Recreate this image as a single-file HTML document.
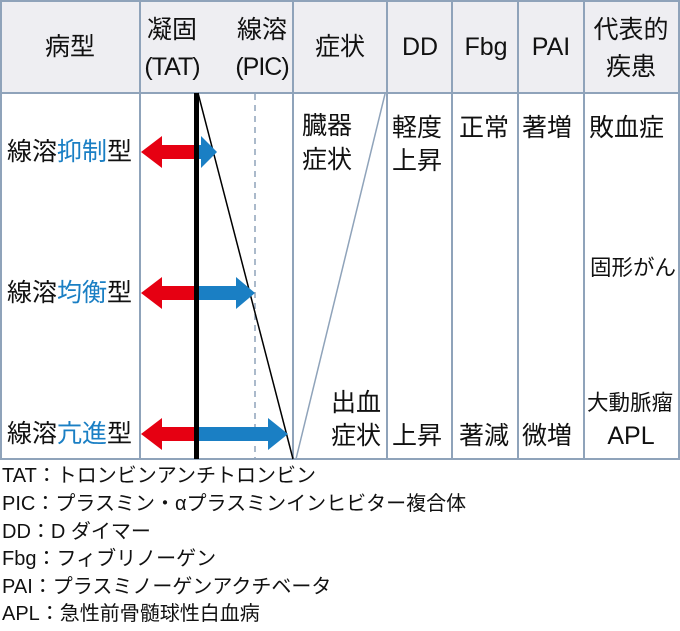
<!DOCTYPE html>
<html><head><meta charset="utf-8"><style>
html,body{margin:0;padding:0;background:#fff;}
svg{display:block;}
text{font-family:"Liberation Sans","Noto Sans CJK JP",sans-serif;fill:#111;dominant-baseline:central;}
</style></head><body>
<svg width="680" height="631" viewBox="0 0 680 631" xmlns="http://www.w3.org/2000/svg">
<rect x="1" y="1" width="678" height="92" fill="#eeeef2"/>
<g stroke="#8fa3ba" stroke-width="2" fill="none">
<rect x="1" y="1" width="678" height="458"/>
<line x1="1" y1="93" x2="679" y2="93"/>
<line x1="140" y1="1" x2="140" y2="459"/>
<line x1="293" y1="1" x2="293" y2="459"/>
<line x1="387" y1="1" x2="387" y2="459"/>
<line x1="452" y1="1" x2="452" y2="459"/>
<line x1="518" y1="1" x2="518" y2="459"/>
<line x1="584" y1="1" x2="584" y2="459"/>
</g>
<line x1="255" y1="94" x2="255" y2="459" stroke="#8fa3ba" stroke-width="1.5" stroke-dasharray="6,5"/>
<line x1="296" y1="459" x2="385" y2="94" stroke="#8fa3ba" stroke-width="1.5"/>
<line x1="198" y1="93" x2="293" y2="459" stroke="#000" stroke-width="1.5"/>
<g>
<polygon points="141,152 162,136 162,145 197,145 197,159 162,159 162,168" fill="#e60012"/>
<polygon points="197,145 201,145 201,136 217,152 201,168 201,159 197,159" fill="#1a7fc4"/>
<polygon points="141,293 162,277 162,286 197,286 197,300 162,300 162,309" fill="#e60012"/>
<polygon points="197,286 236,286 236,277 255,293 236,309 236,300 197,300" fill="#1a7fc4"/>
<polygon points="141,434 162,418 162,427 197,427 197,441 162,441 162,450" fill="#e60012"/>
<polygon points="197,427 268,427 268,418 288,434 268,450 268,441 197,441" fill="#1a7fc4"/>
</g>
<rect x="194" y="93" width="5" height="366" fill="#000"/>
<g font-size="25">
<text x="70" y="47" text-anchor="middle">病型</text>
<text x="172" y="30" text-anchor="middle">凝固</text>
<text x="172" y="67" text-anchor="middle" letter-spacing="-1">(TAT)</text>
<text x="262" y="30" text-anchor="middle">線溶</text>
<text x="262" y="67" text-anchor="middle" letter-spacing="-1">(PIC)</text>
<text x="340" y="47" text-anchor="middle">症状</text>
<text x="420" y="47" text-anchor="middle">DD</text>
<text x="486" y="47" text-anchor="middle">Fbg</text>
<text x="551" y="47" text-anchor="middle">PAI</text>
<text x="631" y="30" text-anchor="middle">代表的</text>
<text x="631" y="67" text-anchor="middle">疾患</text>

<text x="7" y="152">線溶<tspan fill="#1a7fc4">抑制</tspan>型</text>
<text x="7" y="293">線溶<tspan fill="#1a7fc4">均衡</tspan>型</text>
<text x="7" y="434">線溶<tspan fill="#1a7fc4">亢進</tspan>型</text>

<text x="302" y="126">臓器</text>
<text x="302" y="160">症状</text>
<text x="392" y="128">軽度</text>
<text x="392" y="161">上昇</text>
<text x="459" y="128">正常</text>
<text x="522" y="128">著増</text>
<text x="589" y="128">敗血症</text>
<text x="590" y="268" font-size="21.5">固形がん</text>
<text x="587" y="403" font-size="21.5">大動脈瘤</text>
<text x="331" y="403">出血</text>
<text x="331" y="436">症状</text>
<text x="392" y="436">上昇</text>
<text x="459" y="436">著減</text>
<text x="522" y="436">微増</text>
<text x="631" y="436" text-anchor="middle">APL</text>
</g>
<g font-size="20">
<text x="2" y="476">TAT：トロンビンアンチトロンビン</text>
<text x="2" y="504">PIC：プラスミン・αプラスミンインヒビター複合体</text>
<text x="2" y="532">DD：D ダイマー</text>
<text x="2" y="559">Fbg：フィブリノーゲン</text>
<text x="2" y="587">PAI：プラスミノーゲンアクチベータ</text>
<text x="2" y="614">APL：急性前骨髄球性白血病</text>
</g>
</svg>
</body></html>
